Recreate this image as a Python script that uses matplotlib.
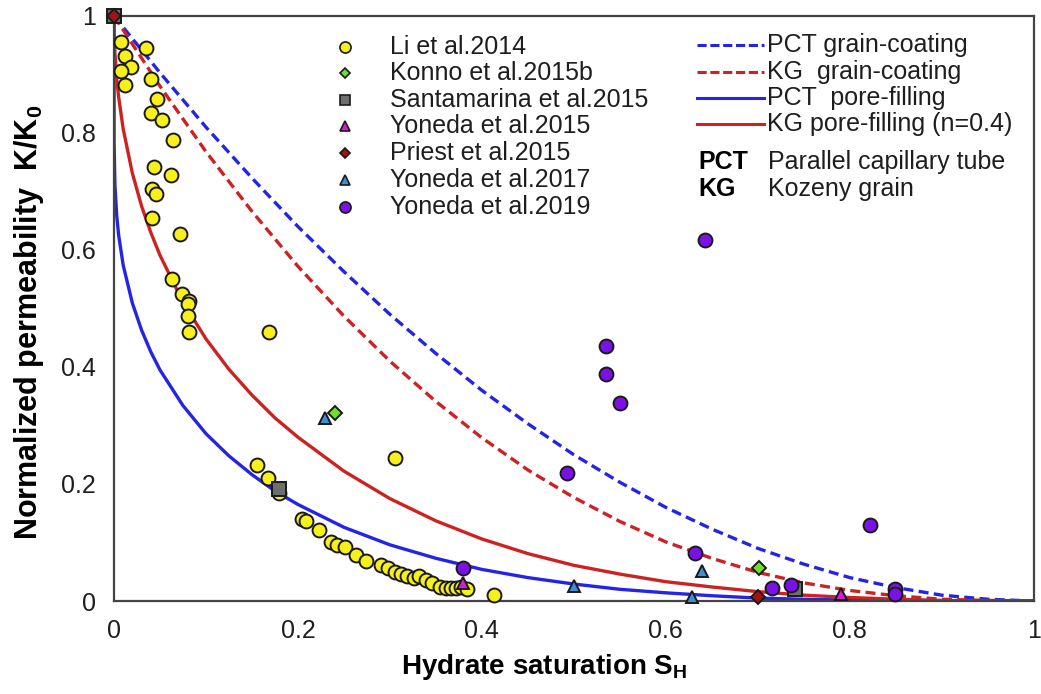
import matplotlib
matplotlib.use('Agg')
import matplotlib.pyplot as plt

plt.rcParams['font.family'] = ['Liberation Sans', 'DejaVu Sans']
plt.rcParams['mathtext.fontset'] = 'custom'
plt.rcParams['mathtext.rm'] = 'Liberation Sans'
plt.rcParams['mathtext.bf'] = 'Liberation Sans:bold'

# model curves
sh_coat = [0, 0.05, 0.1, 0.15, 0.2, 0.25, 0.3, 0.35, 0.4, 0.45, 0.5,
           0.55, 0.6, 0.65, 0.7, 0.75, 0.8, 0.85, 0.9, 0.95, 1.0]
pct_coat = [1.0, 0.903, 0.810, 0.723, 0.640, 0.563, 0.490, 0.423, 0.360, 0.303, 0.250,
            0.203, 0.160, 0.123, 0.090, 0.063, 0.040, 0.023, 0.010, 0.003, 0.0]
kg_coat = [1.0, 0.880, 0.768, 0.666, 0.572, 0.487, 0.410, 0.341, 0.279, 0.224, 0.177,
           0.136, 0.101, 0.073, 0.049, 0.031, 0.018, 0.009, 0.003, 0.001, 0.0]

sh_fill = [0, 0.0001, 0.001, 0.003, 0.005, 0.01, 0.02, 0.03, 0.04, 0.05, 0.075,
           0.1, 0.125, 0.15, 0.175, 0.2, 0.25, 0.3, 0.35, 0.4, 0.45, 0.5,
           0.55, 0.6, 0.65, 0.7, 0.75, 0.8, 0.85, 0.9, 0.95, 1.0]
pct_fill = [1.0, 0.783, 0.711, 0.658, 0.626, 0.574, 0.509, 0.463, 0.426, 0.395, 0.334,
            0.286, 0.248, 0.216, 0.188, 0.165, 0.126, 0.096, 0.073, 0.054, 0.040, 0.029,
            0.020, 0.014, 0.009, 0.005, 0.003, 0.0015, 0.0006, 0.0002, 0.0, 0.0]
kg_fill = [1.0, 0.980, 0.937, 0.892, 0.862, 0.807, 0.731, 0.675, 0.630, 0.591, 0.511,
           0.448, 0.396, 0.352, 0.313, 0.280, 0.222, 0.175, 0.137, 0.106, 0.081, 0.061,
           0.046, 0.033, 0.024, 0.016, 0.010, 0.006, 0.003, 0.001, 0.0001, 0.0]

# measured data
li_x = [0.008, 0.035, 0.012, 0.018, 0.008, 0.012, 0.040, 0.047, 0.040, 0.052,
        0.064, 0.044, 0.062, 0.041, 0.046, 0.041, 0.072, 0.063, 0.074, 0.082,
        0.081, 0.080, 0.082, 0.168, 0.305, 0.156, 0.167, 0.179, 0.204, 0.209,
        0.223, 0.236, 0.243, 0.251, 0.263, 0.274, 0.290, 0.298, 0.305, 0.312,
        0.319, 0.326, 0.332, 0.339, 0.346, 0.354, 0.361, 0.366, 0.372, 0.377,
        0.384, 0.413]
li_y = [0.956, 0.945, 0.931, 0.913, 0.906, 0.882, 0.893, 0.858, 0.834, 0.822,
        0.788, 0.742, 0.729, 0.704, 0.695, 0.655, 0.627, 0.550, 0.524, 0.512,
        0.508, 0.487, 0.459, 0.459, 0.245, 0.232, 0.211, 0.184, 0.141, 0.137,
        0.121, 0.100, 0.096, 0.093, 0.079, 0.069, 0.062, 0.056, 0.050, 0.046,
        0.043, 0.040, 0.042, 0.036, 0.030, 0.024, 0.023, 0.023, 0.023, 0.024,
        0.020, 0.010]
konno_x = [0.240, 0.701]
konno_y = [0.322, 0.056]
santa_x = [0.0, 0.179, 0.740]
santa_y = [1.0, 0.191, 0.020]
yon15_x = [0.380, 0.790]
yon15_y = [0.030, 0.012]
priest_x = [0.0, 0.700]
priest_y = [1.0, 0.007]
yon17_x = [0.229, 0.500, 0.629, 0.639]
yon17_y = [0.312, 0.026, 0.006, 0.052]
yon19_x = [0.643, 0.535, 0.535, 0.550, 0.493, 0.822, 0.632, 0.379, 0.715, 0.736, 0.849, 0.849]
yon19_y = [0.617, 0.436, 0.388, 0.338, 0.218, 0.130, 0.082, 0.056, 0.022, 0.027, 0.020, 0.012]

series = [
    ('Li et al.2014', li_x, li_y, 'o', '#f7f01a', 10),
    ('Konno et al.2015b', konno_x, konno_y, 'D', '#6ee02a', 7),
    ('Santamarina et al.2015', santa_x, santa_y, 's', '#6e6e6e', 9.5),
    ('Yoneda et al.2015', yon15_x, yon15_y, '^', '#d21fd2', 9),
    ('Priest et al.2015', priest_x, priest_y, 'D', '#9e1414', 7),
    ('Yoneda et al.2017', yon17_x, yon17_y, '^', '#3f8fd6', 9),
    ('Yoneda et al.2019', yon19_x, yon19_y, 'o', '#7a12e6', 10),
]

blue = '#2424e6'
red = '#cc2222'

fig = plt.figure(figsize=(10.41, 6.94), dpi=100)
ax = fig.add_axes([0.1095, 0.134, 0.8835, 0.843])

ax.plot(sh_coat, pct_coat, color=blue, lw=2.4, dashes=(3, 1.6), zorder=2)
ax.plot(sh_coat, kg_coat, color=red, lw=2.4, dashes=(3, 1.6), zorder=2)
ax.plot(sh_fill, pct_fill, color=blue, lw=2.4, zorder=2)
ax.plot(sh_fill, kg_fill, color=red, lw=2.4, zorder=2)

for label, xs, ys, mk, col, ms in series:
    ax.plot(xs, ys, ls='none', marker=mk, color=col, ms=ms, mec='#1a1a1a',
            mew=1.4, zorder=3, clip_on=False)

# left legend (markers)
leg_y = [0.947, 0.903, 0.856, 0.812, 0.766, 0.720, 0.674]
for (label, xs, ys, mk, col, ms), yy in zip(series, leg_y):
    ax.plot([0.251], [yy], transform=ax.transAxes, ls='none', marker=mk, color=col,
            ms=ms * 0.8, mec='#1a1a1a', mew=1.2, zorder=4)
    ax.text(0.300, yy, label, transform=ax.transAxes, fontsize=18, va='center',
            ha='left', color='#1e1e1e')

# right legend (model lines)
lines_leg = [('PCT grain-coating', blue, (3, 1.2)),
             ('KG  grain-coating', red, (3, 1.2)),
             ('PCT  pore-filling', blue, None),
             ('KG pore-filling (n=0.4)', red, None)]
line_y = [0.950, 0.904, 0.860, 0.815]
for (label, col, ds), yy in zip(lines_leg, line_y):
    ln, = ax.plot([0.634, 0.707], [yy, yy], transform=ax.transAxes, color=col, lw=2.2)
    if ds:
        ln.set_dashes(ds)
    ax.text(0.710, yy, label, transform=ax.transAxes, fontsize=18, va='center',
            ha='left', color='#1e1e1e')

ax.text(0.635, 0.750, 'PCT', transform=ax.transAxes, fontsize=18, fontweight='bold', va='center')
ax.text(0.711, 0.750, 'Parallel capillary tube', transform=ax.transAxes, fontsize=18, va='center',
        color='#1e1e1e')
ax.text(0.635, 0.704, 'KG', transform=ax.transAxes, fontsize=18, fontweight='bold', va='center')
ax.text(0.711, 0.704, 'Kozeny grain', transform=ax.transAxes, fontsize=18, va='center',
        color='#1e1e1e')

ax.set_xlim(0, 1)
ax.set_ylim(0, 1)
ticks = [0, 0.2, 0.4, 0.6, 0.8, 1]
tick_lbl = ['0', '0.2', '0.4', '0.6', '0.8', '1']
ax.set_xticks(ticks, tick_lbl)
ax.set_yticks(ticks, tick_lbl)
ax.tick_params(length=0, labelsize=18, pad=13, labelcolor='#1e1e1e')
for sp in ax.spines.values():
    sp.set_color('#444444')
    sp.set_linewidth(1.6)

ax.set_xlabel(r'Hydrate saturation $\mathbf{S_H}$', fontsize=20, fontweight='bold')
ax.set_ylabel(r'Normalized permeability  $\mathbf{K/K_0}$', fontsize=22, fontweight='bold')
ax.xaxis.set_label_coords(0.468, -0.088)
ax.yaxis.set_label_coords(-0.074, 0.477)

fig.savefig('out.png', dpi=100)
